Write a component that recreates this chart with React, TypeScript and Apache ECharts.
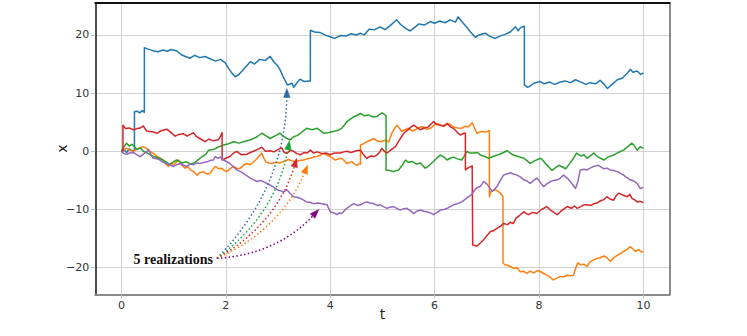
import React, { useEffect, useRef } from "react";
import * as echarts from "echarts";

// ---------- data (t, x) ----------
const blueData: [number, number][] = [
  [0, 0], [0.05, 0.3], [0.1, -0.2], [0.15, 0.4], [0.2, 0.1], [0.25, 0.2], [0.25, 6.8], [0.3, 6.9], [0.35, 6.6], [0.4, 7.0], [0.44, 6.7],
  [0.44, 17.8], [0.5, 17.6], [0.6, 17.3], [0.7, 17.1], [0.8, 17.4], [0.88, 17.2], [0.95, 17.5], [1.05, 17.3], [1.15, 16.6], [1.25, 16.2],
  [1.32, 16.0], [1.4, 16.5], [1.5, 16.1], [1.6, 16.3], [1.7, 15.9], [1.8, 15.5], [1.9, 15.8], [1.99, 15.2], [2.05, 14.3], [2.12, 13.4],
  [2.18, 12.8], [2.25, 13.2], [2.35, 14.2], [2.47, 15.4], [2.55, 15.0], [2.65, 15.8], [2.75, 15.6], [2.85, 16.3], [2.92, 15.4], [3.0, 14.6],
  [3.04, 14.0], [3.1, 12.8], [3.18, 11.4], [3.27, 11.7], [3.3, 11.0], [3.35, 11.6], [3.42, 12.4], [3.5, 12.0], [3.6, 12.1], [3.62, 12.1],
  [3.62, 20.8], [3.7, 20.5], [3.81, 20.4], [3.9, 20.0], [4.0, 19.7], [4.08, 19.4], [4.2, 19.9], [4.3, 19.8], [4.4, 20.2], [4.5, 20.0],
  [4.58, 20.3], [4.65, 20.0], [4.75, 21.0], [4.85, 20.9], [4.96, 21.4], [5.05, 20.9], [5.15, 21.6], [5.27, 22.6], [5.35, 21.8], [5.45, 21.1],
  [5.53, 20.7], [5.62, 21.3], [5.7, 21.9], [5.8, 21.7], [5.92, 22.3], [6.0, 22.0], [6.1, 22.4], [6.2, 22.1], [6.3, 22.6], [6.4, 22.2],
  [6.45, 23.1], [6.55, 22.0], [6.62, 21.3], [6.68, 20.6], [6.78, 19.6], [6.85, 20.0], [6.97, 20.3], [7.05, 19.8], [7.16, 19.4], [7.25, 19.8],
  [7.35, 20.1], [7.45, 20.5], [7.55, 21.4], [7.6, 20.7], [7.65, 21.3], [7.72, 21.5], [7.72, 11.4], [7.78, 11.0], [7.83, 11.2], [7.9, 11.7],
  [8.02, 12.0], [8.1, 11.6], [8.2, 11.9], [8.3, 11.5], [8.41, 11.9], [8.5, 12.1], [8.6, 11.8], [8.7, 12.3], [8.8, 11.9], [8.9, 11.5],
  [8.98, 11.8], [9.08, 11.6], [9.17, 12.2], [9.25, 11.5], [9.31, 10.8], [9.4, 11.5], [9.5, 12.3], [9.6, 12.6], [9.7, 13.5], [9.75, 14.1],
  [9.8, 13.6], [9.88, 13.8], [9.95, 13.2], [10.0, 13.5],
];

const orangeData: [number, number][] = [
  [0, 0], [0.05, 0.3], [0.1, 0.5], [0.16, 0.2], [0.23, 0.0], [0.3, 0.4], [0.36, 0.6], [0.42, 0.8], [0.48, 0.5], [0.55, 0.0],
  [0.62, -0.4], [0.68, -0.9], [0.75, -1.2], [0.8, -1.5], [0.85, -2.2], [0.9, -2.6], [0.95, -2.0], [1.0, -2.3], [1.05, -1.9], [1.09, -1.5],
  [1.15, -2.3], [1.22, -2.9], [1.28, -2.7], [1.32, -3.2], [1.4, -3.6], [1.45, -4.1], [1.5, -3.7], [1.57, -3.5], [1.63, -3.9], [1.7, -3.8],
  [1.75, -3.1], [1.8, -2.6], [1.86, -3.0], [1.92, -2.9], [1.97, -3.3], [2.02, -3.5], [2.08, -3.0], [2.15, -2.6], [2.22, -3.0], [2.28, -2.9],
  [2.34, -2.4], [2.4, -2.1], [2.47, -2.3], [2.53, -1.8], [2.58, -1.4], [2.63, -0.9], [2.69, -0.35], [2.73, -1.2], [2.77, -1.8], [2.82, -2.0],
  [2.88, -2.1], [2.95, -1.9], [3.04, -2.0], [3.12, -1.7], [3.2, -1.4], [3.26, -1.6], [3.33, -1.8], [3.4, -1.6], [3.49, -1.5], [3.55, -1.3],
  [3.62, -1.2], [3.68, -1.0], [3.75, -0.9], [3.82, -0.6], [3.87, -0.35], [3.93, -0.6], [4.0, -0.9], [4.05, -1.2], [4.1, -1.5], [4.16, -1.3],
  [4.22, -1.2], [4.28, -1.7], [4.32, -2.1], [4.38, -1.9], [4.42, -1.8], [4.47, -2.2], [4.51, -2.4], [4.56, -2.1], [4.58, -2.2], [4.58, 1.1],
  [4.64, 1.3], [4.7, 1.65], [4.77, 1.9], [4.83, 2.2], [4.9, 1.8], [4.96, 1.65], [5.05, 1.9], [5.12, 1.6], [5.18, 3.1], [5.23, 3.9],
  [5.28, 4.5], [5.33, 3.9], [5.37, 3.4], [5.43, 3.7], [5.5, 3.95], [5.57, 3.5], [5.63, 3.7], [5.7, 4.1], [5.79, 4.2], [5.85, 3.8],
  [5.92, 3.95], [5.98, 4.4], [6.05, 4.8], [6.12, 4.4], [6.2, 4.5], [6.28, 4.7], [6.36, 4.2], [6.44, 4.0], [6.52, 3.95], [6.58, 4.3],
  [6.65, 4.2], [6.72, 4.9], [6.76, 4.1], [6.81, 3.1], [6.86, 3.3], [6.91, 3.4], [6.97, 3.3], [7.05, 3.55], [7.05, -7.8], [7.08, -6.9],
  [7.12, -6.7], [7.16, -6.6], [7.22, -6.9], [7.26, -7.2], [7.31, -7.8], [7.31, -19.2], [7.35, -19.5], [7.39, -19.6], [7.45, -19.8], [7.51, -20.1],
  [7.58, -20.0], [7.64, -20.7], [7.7, -20.6], [7.77, -21.0], [7.83, -20.6], [7.9, -20.9], [7.97, -20.5], [8.03, -20.7], [8.09, -21.0], [8.15, -21.3],
  [8.21, -21.6], [8.27, -22.1], [8.34, -21.8], [8.41, -21.5], [8.47, -21.6], [8.54, -21.3], [8.6, -21.4], [8.66, -21.3], [8.7, -20.2], [8.74, -19.2],
  [8.8, -19.5], [8.86, -19.4], [8.92, -19.8], [8.98, -19.0], [9.04, -18.7], [9.11, -18.4], [9.17, -18.3], [9.24, -18.0], [9.3, -18.3], [9.37, -18.9],
  [9.43, -18.3], [9.5, -17.9], [9.56, -17.6], [9.62, -17.2], [9.68, -16.9], [9.75, -16.4], [9.8, -16.8], [9.85, -17.2], [9.91, -16.9], [9.96, -17.3],
  [10.0, -17.2],
];

const greenData: [number, number][] = [
  [0, 0], [0.05, 0.8], [0.1, 1.4], [0.15, 0.9], [0.2, 1.2], [0.3, 0.3], [0.36, 0.6], [0.42, 0.0], [0.5, -0.3], [0.61, -0.9],
  [0.7, -1.1], [0.8, -1.5], [0.87, -1.9], [0.93, -2.3], [1.0, -1.8], [1.06, -1.5], [1.16, -2.0], [1.25, -1.8], [1.32, -2.2], [1.4, -2.0],
  [1.45, -1.6], [1.55, -0.9], [1.62, -0.5], [1.67, 0.2], [1.76, 0.3], [1.85, 0.7], [1.96, 1.1], [2.05, 1.3], [2.15, 1.65], [2.25, 1.4],
  [2.34, 1.65], [2.45, 1.9], [2.53, 2.2], [2.6, 2.5], [2.69, 3.1], [2.78, 2.6], [2.85, 2.2], [2.95, 2.7], [3.04, 3.1], [3.1, 2.6],
  [3.17, 2.2], [3.24, 2.0], [3.3, 2.5], [3.36, 2.7], [3.43, 3.1], [3.5, 3.6], [3.55, 3.95], [3.65, 3.7], [3.75, 3.95], [3.82, 3.5],
  [3.87, 3.1], [3.95, 3.2], [4.06, 3.4], [4.15, 3.6], [4.22, 3.95], [4.28, 4.6], [4.32, 5.1], [4.4, 5.6], [4.45, 5.95], [4.52, 6.2],
  [4.58, 6.5], [4.65, 6.1], [4.73, 6.25], [4.82, 5.9], [4.9, 6.0], [4.99, 6.6], [5.05, 6.25], [5.07, 6.1], [5.07, -3.2], [5.14, -3.3],
  [5.21, -3.5], [5.31, -3.2], [5.38, -2.4], [5.44, -1.5], [5.5, -1.9], [5.57, -1.75], [5.65, -2.2], [5.73, -2.0], [5.82, -2.9], [5.9, -2.4],
  [5.98, -1.75], [6.05, -1.1], [6.11, -0.65], [6.18, -1.0], [6.24, -1.5], [6.3, -1.2], [6.36, -1.0], [6.44, -1.3], [6.52, -1.5], [6.57, -0.8],
  [6.62, 0.0], [6.68, -0.3], [6.75, -0.3], [6.82, -0.2], [6.88, -0.65], [6.96, -0.9], [7.04, -1.2], [7.12, -0.9], [7.2, -0.65], [7.3, -0.3],
  [7.39, 0.1], [7.45, -0.3], [7.51, -0.65], [7.6, -0.9], [7.71, -1.2], [7.77, -1.6], [7.83, -2.1], [7.92, -1.6], [8.03, -1.2], [8.08, -1.6],
  [8.12, -2.1], [8.18, -2.6], [8.25, -3.3], [8.32, -2.8], [8.38, -2.4], [8.45, -2.7], [8.51, -3.0], [8.58, -2.2], [8.66, -1.2], [8.72, -0.3],
  [8.8, -0.8], [8.86, -0.6], [8.92, -1.2], [8.98, -0.8], [9.05, -0.3], [9.12, -0.9], [9.18, -1.2], [9.24, -1.5], [9.32, -1.0], [9.43, -0.65],
  [9.52, -0.2], [9.62, 0.2], [9.7, 0.8], [9.78, 1.4], [9.83, 0.9], [9.88, 0.2], [9.94, 0.8], [10.0, 0.5],
];

const redData: [number, number][] = [
  [0, 0], [0.03, 0.0], [0.03, 4.5], [0.08, 3.9], [0.15, 4.0], [0.23, 3.7], [0.3, 3.9], [0.36, 4.0], [0.42, 4.35], [0.48, 3.5],
  [0.55, 3.4], [0.62, 3.3], [0.68, 3.1], [0.75, 3.5], [0.87, 3.8], [0.95, 3.2], [1.03, 2.6], [1.1, 2.9], [1.19, 3.0], [1.26, 2.6],
  [1.32, 2.9], [1.38, 3.2], [1.43, 2.6], [1.5, 2.2], [1.6, 1.65], [1.68, 2.1], [1.76, 1.8], [1.86, 2.0], [1.9, 2.6], [1.93, 3.2],
  [1.93, -1.5], [2.0, -1.2], [2.08, -0.9], [2.15, -0.3], [2.21, 0.0], [2.3, -0.6], [2.4, -0.5], [2.47, -0.2], [2.53, 0.0], [2.6, 0.3],
  [2.69, 0.7], [2.76, 0.0], [2.85, 0.1], [2.92, -0.1], [2.98, 0.2], [3.07, 0.6], [3.12, -0.2], [3.17, -0.35], [3.24, 0.2], [3.3, 0.0],
  [3.36, -0.4], [3.43, -0.6], [3.5, -0.2], [3.56, -0.3], [3.62, 0.2], [3.68, -0.3], [3.75, -0.1], [3.85, -0.4], [3.92, -0.3], [4.0, -0.6],
  [4.08, -0.3], [4.19, -0.3], [4.26, -0.1], [4.32, 0.0], [4.4, -0.2], [4.5, 0.1], [4.58, 0.2], [4.63, -0.5], [4.7, -1.2], [4.78, -0.8],
  [4.84, -0.9], [4.9, -0.6], [4.95, -0.1], [4.99, 0.5], [5.05, -0.1], [5.09, -0.3], [5.17, 0.3], [5.25, 0.8], [5.33, 2.0], [5.41, 3.1],
  [5.48, 3.6], [5.55, 4.2], [5.6, 4.5], [5.66, 4.1], [5.73, 3.7], [5.8, 4.0], [5.88, 4.2], [5.93, 4.7], [5.98, 5.1], [6.04, 4.6],
  [6.11, 4.5], [6.18, 4.3], [6.24, 4.8], [6.3, 4.2], [6.36, 3.95], [6.43, 3.3], [6.49, 2.8], [6.56, 3.1], [6.59, 3.1], [6.59, -3.2],
  [6.65, -2.8], [6.72, -2.5], [6.73, -2.5], [6.73, -16.1], [6.81, -16.3], [6.87, -15.8], [6.94, -15.2], [7.0, -14.5], [7.07, -13.8], [7.14, -13.6],
  [7.2, -13.2], [7.26, -12.9], [7.32, -12.4], [7.4, -12.6], [7.45, -12.2], [7.51, -12.4], [7.56, -11.5], [7.63, -11.0], [7.71, -10.4], [7.76, -10.7],
  [7.8, -10.9], [7.88, -10.5], [7.96, -10.7], [8.05, -10.0], [8.15, -9.5], [8.22, -10.1], [8.3, -10.6], [8.35, -10.9], [8.42, -10.3], [8.48, -9.9],
  [8.54, -9.5], [8.62, -9.8], [8.68, -9.4], [8.73, -9.8], [8.8, -9.5], [8.86, -9.2], [8.92, -9.2], [9.0, -9.3], [9.05, -9.0], [9.11, -8.9],
  [9.18, -8.5], [9.24, -8.3], [9.3, -7.8], [9.36, -8.2], [9.43, -8.4], [9.48, -7.6], [9.53, -7.2], [9.6, -7.5], [9.69, -7.8], [9.74, -7.4],
  [9.78, -8.1], [9.84, -8.4], [9.88, -8.7], [9.94, -8.6], [10.0, -8.8],
];

const purpleData: [number, number][] = [
  [0, 0], [0.05, -0.4], [0.1, -0.5], [0.16, -0.3], [0.23, -0.2], [0.3, -0.6], [0.36, -0.9], [0.42, -0.5], [0.48, -0.1], [0.52, 0.3],
  [0.57, -0.6], [0.61, -1.2], [0.68, -1.3], [0.74, -1.5], [0.8, -1.9], [0.87, -2.1], [0.94, -2.4], [1.0, -2.6], [1.06, -2.3], [1.13, -2.1],
  [1.19, -2.4], [1.25, -2.6], [1.32, -2.2], [1.38, -2.3], [1.45, -2.0], [1.51, -2.1], [1.58, -1.9], [1.64, -1.8], [1.7, -1.6], [1.76, -1.5],
  [1.8, -0.9], [1.85, -1.2], [1.9, -1.0], [1.96, -1.5], [2.02, -1.8], [2.08, -2.1], [2.15, -2.7], [2.21, -3.2], [2.28, -3.5], [2.34, -3.8],
  [2.4, -4.2], [2.47, -4.6], [2.53, -4.9], [2.6, -5.2], [2.66, -5.0], [2.72, -5.2], [2.78, -5.5], [2.85, -5.8], [2.92, -6.2], [2.98, -6.6],
  [3.05, -6.8], [3.11, -7.0], [3.17, -6.6], [3.23, -7.2], [3.3, -7.8], [3.36, -7.9], [3.43, -8.1], [3.49, -8.4], [3.55, -8.7], [3.62, -8.8],
  [3.68, -9.0], [3.76, -8.9], [3.84, -9.0], [3.94, -9.2], [4.0, -10.4], [4.07, -10.6], [4.13, -10.9], [4.18, -10.6], [4.22, -10.7], [4.27, -10.2],
  [4.32, -9.8], [4.38, -9.4], [4.45, -9.0], [4.52, -9.3], [4.58, -9.2], [4.64, -8.9], [4.7, -8.7], [4.77, -8.9], [4.83, -9.0], [4.9, -9.3],
  [4.96, -9.2], [5.02, -9.5], [5.09, -9.8], [5.15, -9.6], [5.21, -9.5], [5.28, -9.8], [5.34, -10.1], [5.4, -9.9], [5.47, -9.8], [5.53, -10.2],
  [5.6, -10.7], [5.66, -10.3], [5.73, -10.1], [5.79, -10.3], [5.85, -10.4], [5.92, -10.6], [5.98, -10.9], [6.05, -10.5], [6.11, -10.1], [6.18, -10.0],
  [6.24, -9.8], [6.3, -9.5], [6.36, -9.2], [6.44, -9.0], [6.52, -8.7], [6.58, -8.3], [6.65, -7.8], [6.7, -7.5], [6.75, -6.9], [6.8, -6.3],
  [6.88, -6.0], [6.94, -5.2], [7.0, -5.6], [7.05, -6.2], [7.1, -6.9], [7.15, -6.5], [7.2, -6.0], [7.26, -5.0], [7.32, -4.1], [7.38, -3.9],
  [7.45, -3.7], [7.51, -3.9], [7.58, -4.1], [7.64, -4.4], [7.71, -4.9], [7.77, -5.1], [7.83, -5.5], [7.9, -5.0], [7.96, -4.6], [8.02, -5.3],
  [8.09, -6.1], [8.15, -5.6], [8.22, -5.2], [8.28, -5.0], [8.35, -4.9], [8.41, -4.6], [8.47, -4.1], [8.54, -4.6], [8.6, -5.2], [8.65, -5.8],
  [8.7, -6.4], [8.75, -5.0], [8.79, -3.2], [8.86, -3.1], [8.92, -3.2], [8.98, -2.9], [9.05, -2.6], [9.1, -2.5], [9.14, -2.4], [9.19, -2.7],
  [9.24, -3.0], [9.3, -2.9], [9.37, -3.2], [9.43, -3.3], [9.5, -3.5], [9.56, -3.8], [9.62, -4.1], [9.68, -4.5], [9.75, -4.9], [9.81, -5.1],
  [9.88, -5.5], [9.94, -6.4], [10.0, -6.2],
];

const xTicks = [0, 2, 4, 6, 8, 10];
const yTicks = [-20, -10, 0, 10, 20];

const annotationText = "5 realizations";
const annotationStart: [number, number] = [1.83, -18.4];
const arrowEnds: [number, number][] = [
  [3.17, 10.8],
  [3.22, 1.8],
  [3.36, -1.2],
  [3.57, -2.35],
  [3.78, -10.0],
];
const arrowColors = ["#2a6ca8", "#12a83a", "#d62728", "#ff7f0e", "#800080"];

const seriesColors = ["#1f77b4", "#ff7f0e", "#2ca02c", "#d62728", "#9467bd"];

const fmt = (v: number) => String(v).replace("-", "\u2212");

export default function App() {
  const ref = useRef<HTMLDivElement>(null);

  useEffect(() => {
    if (!ref.current) return;
    const chart = echarts.init(ref.current, undefined, { renderer: "svg" });
    const seriesData = [blueData, orangeData, greenData, redData, purpleData];
    const tickFont = { color: "#333", fontSize: 11, fontFamily: "DejaVu Sans" };
    chart.setOption({
      animation: false,
      backgroundColor: "#fff",
      grid: { left: 95.3, right: 77.5, top: 3, bottom: 41.7, containLabel: false },
      xAxis: [
        {
          type: "value",
          min: -0.5,
          max: 10.5,
          position: "bottom",
          name: "t",
          nameLocation: "middle",
          nameGap: 13,
          nameMoveOverlap: false,
          nameTextStyle: { color: "#222", fontSize: 14, fontFamily: "DejaVu Sans" },
          axisLine: { show: true, onZero: false, lineStyle: { color: "#8a8a8a", width: 2 } },
          axisTick: { show: true, customValues: xTicks, length: 4, lineStyle: { color: "#bdbdbd" } },
          axisLabel: { customValues: xTicks, margin: 6, formatter: fmt, ...tickFont },
          splitLine: { show: true, lineStyle: { color: "#d2d2d2", width: 1 } },
        },
        {
          type: "value",
          min: -0.5,
          max: 10.5,
          position: "top",
          axisLine: { show: true, onZero: false, lineStyle: { color: "#111", width: 2 } },
          axisTick: { show: false },
          axisLabel: { show: false },
          splitLine: { show: false },
        },
      ],
      yAxis: [
        {
          type: "value",
          min: -24.58,
          max: 25.49,
          position: "left",
          name: "x",
          nameLocation: "middle",
          nameGap: 26,
          nameMoveOverlap: false,
          nameTextStyle: { color: "#222", fontSize: 14, fontFamily: "DejaVu Sans" },
          axisLine: { show: true, onZero: false, lineStyle: { color: "#111", width: 1.5 } },
          axisTick: { show: true, customValues: yTicks, length: 4, lineStyle: { color: "#bdbdbd" } },
          axisLabel: { customValues: yTicks, margin: 6, formatter: fmt, ...tickFont },
          splitLine: { show: true, lineStyle: { color: "#d2d2d2", width: 1 } },
        },
        {
          type: "value",
          min: -24.58,
          max: 25.49,
          position: "right",
          axisLine: { show: true, onZero: false, lineStyle: { color: "#8a8a8a", width: 2 } },
          axisTick: { show: false },
          axisLabel: { show: false },
          splitLine: { show: false },
        },
      ],
      series: seriesData.map((d, i) => ({
        type: "line",
        data: d,
        xAxisIndex: 0,
        yAxisIndex: 0,
        showSymbol: false,
        symbol: "none",
        clip: true,
        lineStyle: { color: seriesColors[i], width: 1.5, join: "round" },
        z: 2 + i,
      })),
    });

    // annotation: curved dotted arrows (matplotlib arc3, rad=0.2) computed from data coords
    const toPx = (p: [number, number]) =>
      chart.convertToPixel({ xAxisIndex: 0, yAxisIndex: 0 }, p) as number[];
    const s = toPx(annotationStart);
    const rad = 0.2;
    const graphics: any[] = [];
    arrowEnds.forEach((e, i) => {
      const p = toPx(e);
      const dx = p[0] - s[0];
      const dy = p[1] - s[1];
      const cx = (s[0] + p[0]) / 2 - rad * dy;
      const cy = (s[1] + p[1]) / 2 + rad * dx;
      let ux = p[0] - cx;
      let uy = p[1] - cy;
      const len = Math.hypot(ux, uy) || 1;
      ux /= len;
      uy /= len;
      const L = 9;
      const W = 3.3;
      const bx = p[0] - ux * L;
      const by = p[1] - uy * L;
      graphics.push({
        type: "bezierCurve",
        z: 100,
        shape: { x1: s[0], y1: s[1], x2: bx + ux * 2, y2: by + uy * 2, cpx1: cx, cpy1: cy },
        style: { stroke: arrowColors[i], lineWidth: 1.5, lineDash: [1.5, 2.4], fill: null },
      });
      graphics.push({
        type: "polygon",
        z: 101,
        shape: {
          points: [
            [p[0], p[1]],
            [bx - uy * W, by + ux * W],
            [bx + uy * W, by - ux * W],
          ],
        },
        style: { fill: arrowColors[i], stroke: arrowColors[i], lineWidth: 0.5 },
      });
    });
    graphics.push({
      type: "text",
      z: 102,
      x: s[0] - 4,
      y: s[1] + 1,
      style: {
        text: annotationText,
        fill: "#111",
        font: "bold 14px 'Liberation Serif', 'Times New Roman', serif",
        align: "right",
        verticalAlign: "middle",
      },
    });
    chart.setOption({ graphic: graphics });

    return () => chart.dispose();
  }, []);

  return (
    <div
      ref={ref}
      style={{ position: "fixed", left: 0, top: 0, width: 747, height: 336, background: "#fff" }}
    />
  );
}
